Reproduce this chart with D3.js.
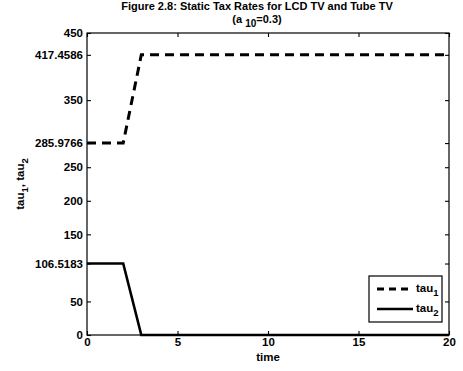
<!DOCTYPE html>
<html>
<head>
<meta charset="utf-8">
<script src="https://cdn.jsdelivr.net/npm/d3@7/dist/d3.min.js"></script>
<style>
  html, body { margin: 0; padding: 0; background: #fff; }
  svg { display: block; font-family: "Liberation Sans", Arial, Helvetica, sans-serif; }
</style>
</head>
<body>
<svg id="chart" width="463" height="371"></svg>
<script>
// Time steps and static tax rates for the two TV types
const time = [0,1,2,3,4,5,6,7,8,9,10,11,12,13,14,15,16,17,18,19,20];
const tau1 = [285.9766,285.9766,285.9766,417.4586,417.4586,417.4586,417.4586,417.4586,417.4586,417.4586,417.4586,
              417.4586,417.4586,417.4586,417.4586,417.4586,417.4586,417.4586,417.4586,417.4586,417.4586];
const tau2 = [106.5183,106.5183,106.5183,0,0,0,0,0,0,0,0,0,0,0,0,0,0,0,0,0,0];
const xTicks = [0,5,10,15,20];
const yTicks = [0,50,106.5183,150,200,250,285.9766,350,417.4586,450];
const yTickLabels = ["0","50","106.5183","150","200","250","285.9766","350","417.4586","450"];

const svg = d3.select("#chart");
const plotLeft = 87, plotRight = 449, plotTop = 33, plotBottom = 335;

const x = d3.scaleLinear().domain([0, 20]).range([plotLeft, plotRight]);
const y = d3.scaleLinear().domain([0, 450]).range([plotBottom, plotTop]);

const tickLen = 4;
const fontSize = 11.5;

// Axes box
svg.append("rect")
  .attr("x", plotLeft).attr("y", plotTop)
  .attr("width", plotRight - plotLeft).attr("height", plotBottom - plotTop)
  .attr("fill", "none").attr("stroke", "#000").attr("stroke-width", 1.2);

// Bottom axis with labels, ticks pointing inward
const gx = svg.append("g").attr("transform", `translate(0,${plotBottom})`)
  .call(d3.axisBottom(x).tickValues(xTicks).tickSizeInner(-tickLen).tickSizeOuter(0).tickPadding(3));
// Top axis ticks only
const gxt = svg.append("g").attr("transform", `translate(0,${plotTop})`)
  .call(d3.axisTop(x).tickValues(xTicks).tickSizeInner(-tickLen).tickSizeOuter(0).tickFormat(""));
// Left axis with labels
const gy = svg.append("g").attr("transform", `translate(${plotLeft},0)`)
  .call(d3.axisLeft(y).tickValues(yTicks).tickSizeInner(-tickLen).tickSizeOuter(0).tickPadding(4)
    .tickFormat((d, i) => yTickLabels[i]));
// Right axis ticks only
const gyr = svg.append("g").attr("transform", `translate(${plotRight},0)`)
  .call(d3.axisRight(y).tickValues(yTicks).tickSizeInner(-tickLen).tickSizeOuter(0).tickFormat(""));

[gx, gxt, gy, gyr].forEach(g => {
  g.select(".domain").remove();
  g.selectAll(".tick line").attr("stroke", "#000").attr("stroke-width", 1.1);
  g.selectAll(".tick text")
    .attr("fill", "#000")
    .style("font-family", "'Liberation Sans', Arial, sans-serif")
    .style("font-size", fontSize + "px")
    .style("font-weight", "bold");
});

// Series lines
const line = d3.line().x((d, i) => x(time[i])).y(d => y(d));

svg.append("path").datum(tau1)
  .attr("d", line).attr("fill", "none")
  .attr("stroke", "#000").attr("stroke-width", 3)
  .attr("stroke-dasharray", "9,6");

svg.append("path").datum(tau2)
  .attr("d", line).attr("fill", "none")
  .attr("stroke", "#000").attr("stroke-width", 2.6);

// Title
const titleX = 257;
svg.append("text")
  .attr("x", titleX).attr("y", 10)
  .attr("text-anchor", "middle")
  .style("font-size", "11px").style("font-weight", "bold")
  .text("Figure 2.8: Static Tax Rates for LCD TV and Tube TV");

const sub = svg.append("text")
  .attr("x", titleX).attr("y", 22.5)
  .attr("text-anchor", "middle")
  .style("font-size", "11px").style("font-weight", "bold");
sub.append("tspan").text("(a ");
sub.append("tspan").attr("dy", 4.5).style("font-size", "10px").text("10");
sub.append("tspan").attr("dy", -4.5).text("=0.3)");

// X label
svg.append("text")
  .attr("x", (plotLeft + plotRight) / 2).attr("y", 361)
  .attr("text-anchor", "middle")
  .style("font-size", "11.5px").style("font-weight", "bold")
  .text("time");

// Y label with subscripts
const yl = svg.append("text")
  .attr("transform", `translate(24,${(plotTop + plotBottom) / 2}) rotate(-90)`)
  .attr("text-anchor", "middle")
  .style("font-size", "11.5px").style("font-weight", "bold");
yl.append("tspan").text("tau");
yl.append("tspan").attr("dy", 4).style("font-size", "9.5px").text("1");
yl.append("tspan").attr("dy", -4).text(", tau");
yl.append("tspan").attr("dy", 4).style("font-size", "9.5px").text("2");

// Legend
const lg = svg.append("g");
lg.append("rect")
  .attr("x", 369).attr("y", 276).attr("width", 73).attr("height", 46)
  .attr("fill", "#fff").attr("stroke", "#000").attr("stroke-width", 1.2);

const legendItems = [
  { name: "1", dash: "7,5", width: 3, yy: 289 },
  { name: "2", dash: null, width: 2.6, yy: 309 }
];
legendItems.forEach(it => {
  const l = lg.append("line")
    .attr("x1", 377).attr("x2", 413).attr("y1", it.yy).attr("y2", it.yy)
    .attr("stroke", "#000").attr("stroke-width", it.width);
  if (it.dash) l.attr("stroke-dasharray", it.dash);
  const t = lg.append("text")
    .attr("x", 416).attr("y", it.yy + 3)
    .style("font-size", "11.5px").style("font-weight", "bold");
  t.append("tspan").text("tau");
  t.append("tspan").attr("dy", 4).style("font-size", "9.5px").text(it.name);
});
</script>
</body>
</html>
